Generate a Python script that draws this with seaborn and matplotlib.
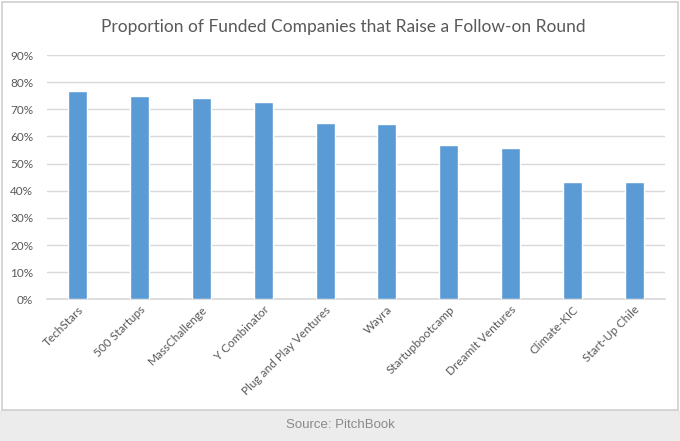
import matplotlib.pyplot as plt
import matplotlib.patches as mpatches
import seaborn as sns
import pandas as pd
from matplotlib.ticker import PercentFormatter

accelerators = ["TechStars", "500 Startups", "MassChallenge", "Y Combinator",
                "Plug and Play Ventures", "Wayra", "Startupbootcamp",
                "DreamIt Ventures", "Climate-KIC", "Start-Up Chile"]
follow_on_share = [0.766, 0.748, 0.741, 0.726, 0.648, 0.645, 0.569, 0.557, 0.431, 0.431]
y_ticks = [0.0, 0.1, 0.2, 0.3, 0.4, 0.5, 0.6, 0.7, 0.8, 0.9]

df = pd.DataFrame({"accelerator": accelerators, "share": follow_on_share})

sns.set_theme(style="white")
plt.rcParams["font.family"] = ["Lato", "DejaVu Sans"]

text_grey = "#595959"
fig = plt.figure(figsize=(6.8, 4.41), dpi=100)

# chart frame and footer band (drawn behind the axes)
fig.patches.append(mpatches.Rectangle((0, 0), 1, 31 / 441, transform=fig.transFigure,
                                      facecolor="#ececec", edgecolor="none", zorder=-2))
fig.patches.append(mpatches.Rectangle((1.5 / 680, 31.5 / 441), 676.5 / 680, 408 / 441,
                                      transform=fig.transFigure, facecolor="white",
                                      edgecolor="#cfcfcf", linewidth=1.2, zorder=-1))

ax = fig.add_axes([47 / 680, (441 - 299.3) / 441, 618 / 680, (299.3 - 55) / 441])
ax.set_zorder(1)
ax.set_facecolor("none")
sns.barplot(data=df, x="accelerator", y="share", color="#5b9bd5", saturation=1,
            width=0.31, ax=ax, zorder=3)

ax.set_ylim(0, 0.9)
ax.set_xlim(-0.5, len(accelerators) - 0.5)
ax.set_yticks(y_ticks)
ax.yaxis.set_major_formatter(PercentFormatter(1.0, decimals=0))
ax.grid(axis="y", color="#d9d9d9", linewidth=1, zorder=0)
sns.despine(ax=ax, left=True, top=True, right=True, bottom=False)
ax.spines["bottom"].set_color("#d9d9d9")
ax.set_xlabel("")
ax.set_ylabel("")
ax.tick_params(axis="both", length=0, labelsize=8.5, labelcolor=text_grey)
ax.tick_params(axis="y", pad=10)
for lbl in ax.get_xticklabels():
    lbl.set_rotation(45)
    lbl.set_ha("right")
    lbl.set_rotation_mode("anchor")

fig.text(0.505, 1 - 27 / 441, "Proportion of Funded Companies that Raise a Follow-on Round",
         ha="center", va="center", fontsize=12.5, color=text_grey)
fig.text(0.5, 16 / 441, "Source: PitchBook", ha="center", va="center", fontsize=9.5,
         color="#8a8a8a", family=["Liberation Sans", "DejaVu Sans"])

fig.savefig("out.png", dpi=100)
